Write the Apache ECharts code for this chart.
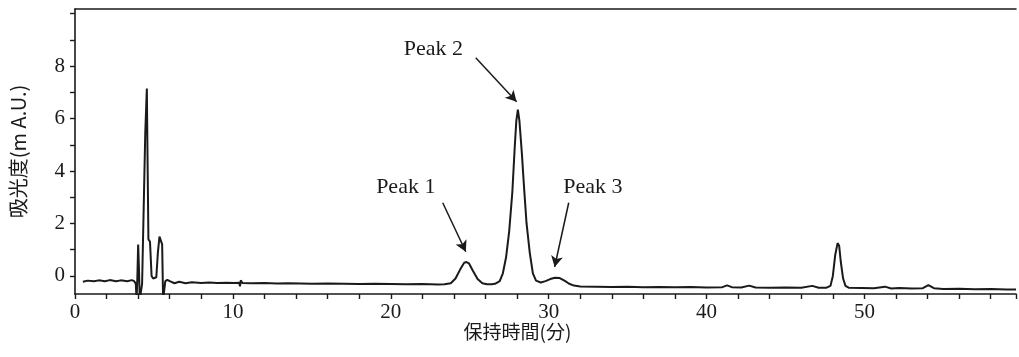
<!DOCTYPE html>
<html>
<head>
<meta charset="utf-8">
<script src="https://cdn.jsdelivr.net/npm/echarts@6/dist/echarts.min.js"></script>
<style>
  html, body { margin: 0; padding: 0; background: #fff; }
  #chart { width: 1019px; height: 357px; }
</style>
</head>
<body>
<div id="chart"></div>
<script>
// Retention time (min) of each trace sample
const retentionTime = [
  0.5, 0.8, 1.2, 1.5, 1.9, 2.2, 2.6, 2.9, 3.3, 3.6, 3.75, 3.85, 3.9, 3.95, 4.0, 4.05, 4.1, 4.2, 4.25, 4.35,
  4.45, 4.55, 4.6, 4.65, 4.75, 4.85, 4.95, 5.05, 5.15, 5.25, 5.35, 5.45, 5.52, 5.58, 5.65, 5.72, 5.85, 6.0, 6.3, 6.6,
  7.0, 7.4, 8.0, 8.5, 9.0, 9.6, 10.1, 10.4, 10.45, 10.5, 10.6, 11.2, 12.0, 12.8, 13.5, 14.3, 15.0, 16.0, 17.0, 18.0,
  19.0, 20.0, 21.0, 22.0, 23.0, 23.4, 23.8, 24.1, 24.4, 24.65, 24.8, 24.95, 25.2, 25.5, 25.8, 26.1, 26.4, 26.6, 26.9, 27.1,
  27.3, 27.5, 27.7, 27.85, 27.95, 28.05, 28.15, 28.3, 28.45, 28.6, 28.8, 29.0, 29.2, 29.5, 29.8, 30.1, 30.4, 30.7, 31.0, 31.3,
  31.6, 32.0, 33.0, 34.0, 35.0, 36.0, 37.0, 38.0, 39.0, 40.0, 41.0, 41.3, 41.6, 42.2, 42.7, 43.1, 44.0, 45.0, 46.0, 46.7,
  47.1, 47.6, 47.85, 48.0, 48.15, 48.3, 48.4, 48.5, 48.65, 48.8, 49.0, 49.8, 50.6, 51.3, 51.7, 52.2, 53.0, 53.7, 54.05, 54.4,
  55.0, 56.0, 57.0, 58.0, 59.0, 59.6
];

// Absorbance (m A.U.) at each retention time
const absorbance = [
  -0.22, -0.18, -0.2, -0.17, -0.2, -0.16, -0.2, -0.17, -0.2, -0.16, -0.2, -0.3, -0.9, -0.05, 1.2, 0.3, -0.9, -0.9, -0.3, -0.3,
  5.45, 7.15, 4.2, 1.4, 1.3, 0.0, -0.1, -0.1, -0.05, 0.9, 1.5, 1.55, 1.2, -0.9, -0.9, -0.2, -0.15, -0.2, -0.28, -0.22,
  -0.28, -0.24, -0.27, -0.25, -0.27, -0.26, -0.27, -0.26, -0.4, -0.17, -0.27, -0.28, -0.27, -0.29, -0.28, -0.29, -0.3, -0.29, -0.3, -0.31,
  -0.3, -0.31, -0.32, -0.31, -0.33, -0.32, -0.28, -0.1, 0.25, 0.5, 0.53, 0.48, 0.2, -0.12, -0.28, -0.32, -0.32, -0.3, -0.2, 0.1,
  0.7, 1.7, 3.2, 4.9, 5.9, 6.34, 5.9, 4.7, 3.3, 2.0, 0.9, 0.1, -0.18, -0.25, -0.2, -0.12, -0.07, -0.08, -0.18, -0.3,
  -0.37, -0.4, -0.41, -0.42, -0.41, -0.43, -0.42, -0.43, -0.42, -0.44, -0.43, -0.36, -0.43, -0.44, -0.37, -0.44, -0.45, -0.44, -0.45, -0.38,
  -0.45, -0.45, -0.38, 0.0, 0.8, 1.25, 1.15, 0.55, -0.1, -0.38, -0.45, -0.46, -0.47, -0.41, -0.48, -0.46, -0.48, -0.47, -0.35, -0.47,
  -0.5, -0.49, -0.51, -0.5, -0.52, -0.52
];

// Peak call-outs: label, label anchor, arrow tail, arrow head (data coordinates)
const peakNames = ['Peak 1', 'Peak 2', 'Peak 3'];
const peakLabelAt = [[20.95, 3.4], [22.7, 8.63], [32.8, 3.4]];
const peakArrowFrom = [[23.29, 2.79], [25.38, 8.32], [31.27, 2.79]];
const peakArrowTo = [[24.75, 0.92], [27.97, 6.64], [30.38, 0.34]];

// Axis ticks and labels
const xLabelValues = [0, 10, 20, 30, 40, 50];
const yTickValues = [0, 1, 2, 3, 4, 5, 6, 7, 8, 9, 10];
const yLabelValues = [0, 2, 4, 6, 8];

const ink = '#1a1a1a';
const serif = '"Liberation Serif", "DejaVu Serif", serif';
const cjk = '"Noto Sans CJK JP", "Noto Sans", sans-serif';

const trace = retentionTime.map((t, i) => [t, absorbance[i]]);

const chart = echarts.init(document.getElementById('chart'), null, { renderer: 'canvas' });

chart.setOption({
  animation: false,
  backgroundColor: '#ffffff',
  grid: { left: 74, right: 3, top: 9, bottom: 63, containLabel: false },
  xAxis: [
    {
      type: 'value',
      min: 0,
      max: 59.6,
      interval: 2,
      name: '保持時間(分)',
      nameLocation: 'middle',
      nameGap: 28,
      nameMoveOverlap: false,
      nameTextStyle: { fontFamily: cjk, fontSize: 19, color: ink, verticalAlign: 'top', padding: [0, 56, 0, 0] },
      axisLine: { show: true, onZero: false, lineStyle: { color: ink, width: 1.6 } },
      axisTick: { show: true, inside: false, length: 5, lineStyle: { color: ink, width: 1.4 } },
      axisLabel: {
        margin: 8,
        fontFamily: serif,
        fontSize: 21,
        color: ink,
        formatter: v => (xLabelValues.indexOf(v) >= 0 ? String(v) : '')
      },
      splitLine: { show: false }
    },
    {
      type: 'value',
      position: 'top',
      min: 0,
      max: 59.6,
      axisLine: { show: true, onZero: false, lineStyle: { color: ink, width: 1.6 } },
      axisTick: { show: false },
      axisLabel: { show: false },
      splitLine: { show: false }
    }
  ],
  yAxis: {
    type: 'value',
    min: -0.69,
    max: 10.18,
    name: '吸光度(m A.U.)',
    nameLocation: 'middle',
    nameGap: 47,
    nameRotate: 90,
    nameMoveOverlap: false,
    nameTextStyle: { fontFamily: cjk, fontSize: 20, color: ink },
    axisLine: { show: true, onZero: false, lineStyle: { color: ink, width: 1.6 } },
    axisTick: { show: true, inside: false, length: 5, customValues: yTickValues, lineStyle: { color: ink, width: 1.4 } },
    axisLabel: { margin: 10, fontFamily: serif, fontSize: 21, color: ink, customValues: yLabelValues },
    splitLine: { show: false }
  },
  series: [
    {
      type: 'line',
      xAxisIndex: 0,
      data: trace,
      showSymbol: false,
      clip: true,
      lineStyle: { color: ink, width: 2 },
      markLine: {
        silent: true,
        symbol: ['none', 'arrow'],
        symbolSize: [9, 11],
        lineStyle: { color: ink, width: 1.5, type: 'solid' },
        label: { show: false },
        data: peakArrowFrom.map((from, i) => [{ coord: from }, { coord: peakArrowTo[i] }])
      },
      markPoint: {
        silent: true,
        symbol: 'circle',
        symbolSize: 1,
        itemStyle: { color: 'rgba(0,0,0,0)' },
        label: {
          show: true,
          position: 'inside',
          fontFamily: serif,
          fontSize: 22,
          color: ink,
          formatter: p => p.name
        },
        data: peakNames.map((name, i) => ({ name: name, coord: peakLabelAt[i] }))
      }
    }
  ]
});
</script>
</body>
</html>
